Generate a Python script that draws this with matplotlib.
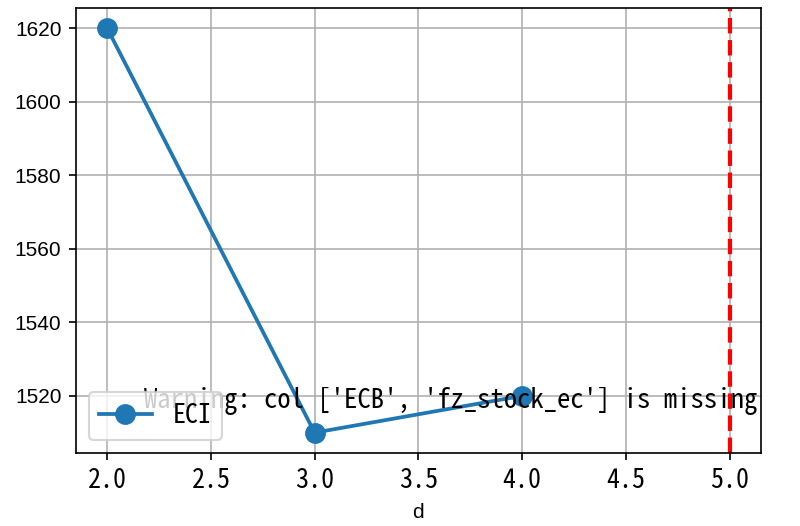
import matplotlib
matplotlib.use("Agg")
import matplotlib.pyplot as plt

# values
d_vals = [2.0, 3.0, 4.0]
eci_vals = [1620, 1510, 1520]
cut_d = 5.0
series_name = "ECI"
warn_msg = "Warning: col ['ECB', 'fz_stock_ec'] is missing"

mono = ["Noto Sans Mono CJK SC", "Noto Sans CJK SC", "DejaVu Sans Mono"]
plt.rcParams["font.family"] = ["Liberation Sans", "DejaVu Sans"]

fig = plt.figure(figsize=(800 / 150, 526 / 150), dpi=150)
ax = fig.add_axes([0.095, 0.139, 0.856, 0.846])

ax.plot(d_vals, eci_vals, "o-", color="tab:blue", lw=1.8, ms=9, label=series_name)
ax.axvline(cut_d, color="red", ls="--", lw=2)
ax.grid(True)

# warning text sits under the legend, as in the original
ax.text(0.1, 0.1, warn_msg, transform=ax.transAxes, family=mono, fontsize=12.8)

for lab in ax.get_xticklabels():
    lab.set_family(mono)
    lab.set_fontsize(12.5)
ax.set_xlabel("d")
ax.legend(loc="lower left", prop={"family": mono, "size": 12.5})

fig.savefig("out.png", dpi=150)
